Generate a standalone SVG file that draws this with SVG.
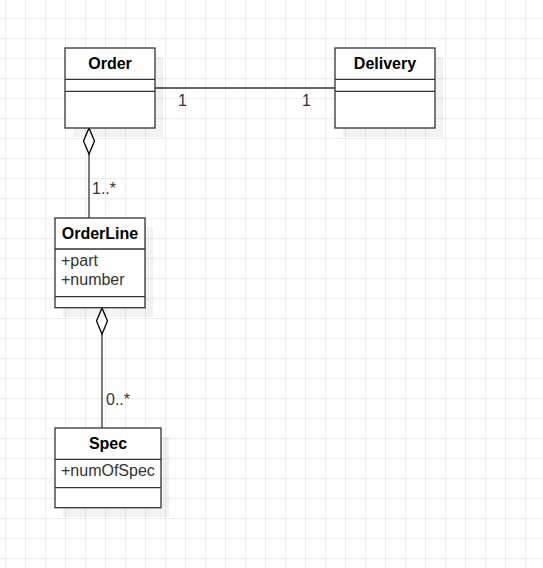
<svg xmlns="http://www.w3.org/2000/svg" width="543" height="568" viewBox="0 0 543 568">
  <style>
    .box { fill: #ffffff; stroke: #333333; stroke-width: 1.3; }
    .shadow { fill: #000000; fill-opacity: 0.05; }
    .sep { stroke: #333333; stroke-width: 1.3; fill: none; }
    .title { font-family: "Liberation Sans", Arial, sans-serif; font-size: 16px; font-weight: bold; fill: #000000; text-anchor: middle; }
    .attr { font-family: "Liberation Sans", Arial, sans-serif; font-size: 16px; fill: #333333; }
    .lbl { font-family: "Liberation Sans", Arial, sans-serif; font-size: 16px; fill: #333333; }
    .conn { stroke: #333333; stroke-width: 1.3; fill: none; }
    .diamond { fill: #ffffff; stroke: #000000; stroke-width: 1.3; }
  </style>
  <defs>
    <pattern id="grid" patternUnits="userSpaceOnUse" x="5" y="18" width="20" height="20">
      <path d="M0 0.5 H20 M0.5 0 V20" stroke="#ededed" stroke-width="1" fill="none"/>
    </pattern>
  </defs>
  <rect x="0" y="0" width="543" height="568" fill="#ffffff"/>
  <rect x="0" y="0" width="543" height="568" fill="url(#grid)"/>

  <g id="connectors">
    <line class="conn" x1="155" y1="88" x2="335" y2="88"/>
    <text class="lbl" x="178" y="106">1</text>
    <text class="lbl" x="302" y="106">1</text>

    <line class="conn" x1="89" y1="154" x2="89" y2="218"/>
    <path class="diamond" d="M89 128 L94.5 141 L89 154 L83.5 141 Z"/>
    <text class="lbl" x="92" y="194">1..*</text>

    <line class="conn" x1="102" y1="334" x2="102" y2="428"/>
    <path class="diamond" d="M102 308 L107.5 321 L102 334 L96.5 321 Z"/>
    <text class="lbl" x="106" y="405">0..*</text>
  </g>

  <g id="Order">
    <rect class="shadow" x="73" y="57" width="90" height="80"/>
    <rect class="box" x="65" y="48" width="90" height="80"/>
    <line class="sep" x1="65" y1="79.3" x2="155" y2="79.3"/>
    <line class="sep" x1="65" y1="91.3" x2="155" y2="91.3"/>
    <text class="title" x="110" y="69">Order</text>
  </g>

  <g id="Delivery">
    <rect class="shadow" x="343" y="57" width="100" height="80"/>
    <rect class="box" x="335" y="48" width="100" height="80"/>
    <line class="sep" x1="335" y1="79.3" x2="435" y2="79.3"/>
    <line class="sep" x1="335" y1="91.3" x2="435" y2="91.3"/>
    <text class="title" x="385" y="69">Delivery</text>
  </g>

  <g id="OrderLine">
    <rect class="shadow" x="63" y="227" width="90" height="90"/>
    <rect class="box" x="55" y="218" width="90" height="89.7"/>
    <line class="sep" x1="55" y1="249" x2="145" y2="249"/>
    <line class="sep" x1="55" y1="296.7" x2="145" y2="296.7"/>
    <text class="title" x="100" y="239">OrderLine</text>
    <text class="attr" x="61" y="266">+part</text>
    <text class="attr" x="61" y="285">+number</text>
  </g>

  <g id="Spec">
    <rect class="shadow" x="63" y="437" width="106" height="80"/>
    <rect class="box" x="55" y="428" width="106" height="79.7"/>
    <line class="sep" x1="55" y1="459.3" x2="161" y2="459.3"/>
    <line class="sep" x1="55" y1="487.7" x2="161" y2="487.7"/>
    <text class="title" x="108" y="449">Spec</text>
    <text class="attr" x="61" y="476">+numOfSpec</text>
  </g>
</svg>
